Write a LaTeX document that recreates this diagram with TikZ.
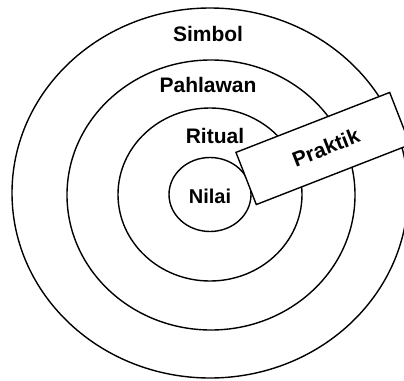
\documentclass[tikz,border=0pt]{standalone}
\usepackage{fontspec}
\setmainfont{Liberation Sans}
\begin{document}
\begin{tikzpicture}[x=1pt,y=-1pt,
  ring/.style={draw=black, line width=1.4pt},
  lbl/.style={font=\fontsize{21}{24}\selectfont\bfseries, inner sep=0pt, anchor=base},
  box/.style={draw=black, fill=white, line width=1.4pt, rectangle, inner sep=0pt,
    minimum width=165pt, minimum height=56pt, rotate=21.3,
    font=\fontsize{21}{24}\selectfont\bfseries}]
\useasboundingbox (0,0) rectangle (404,380);
\clip (0,0) rectangle (404,380);
\coordinate (o4) at (210,193);
\coordinate (o3) at (211,195);
\coordinate (o2) at (210,194.5);
\coordinate (o1) at (210,194.5);
\draw[ring] (o4) ellipse [x radius=198pt, y radius=185pt];
\draw[ring] (o3) ellipse [x radius=144pt, y radius=135pt];
\draw[ring] (o2) ellipse [x radius=92pt, y radius=86.5pt];
\draw[ring] (o1) ellipse [x radius=41pt, y radius=37pt];
\node[lbl] (simbol) at (208,41.5) {Simbol};
\node[lbl] (pahlawan) at (208,92.5) {Pahlawan};
\node[lbl] (ritual) at (215,143) {Ritual};
\node[lbl, font=\fontsize{20}{24}\selectfont\bfseries] (nilai) at (210,203) {Nilai};
\node[box] (praktik) at (323,148.5) {\hspace*{6pt}Praktik};
\end{tikzpicture}
\end{document}
